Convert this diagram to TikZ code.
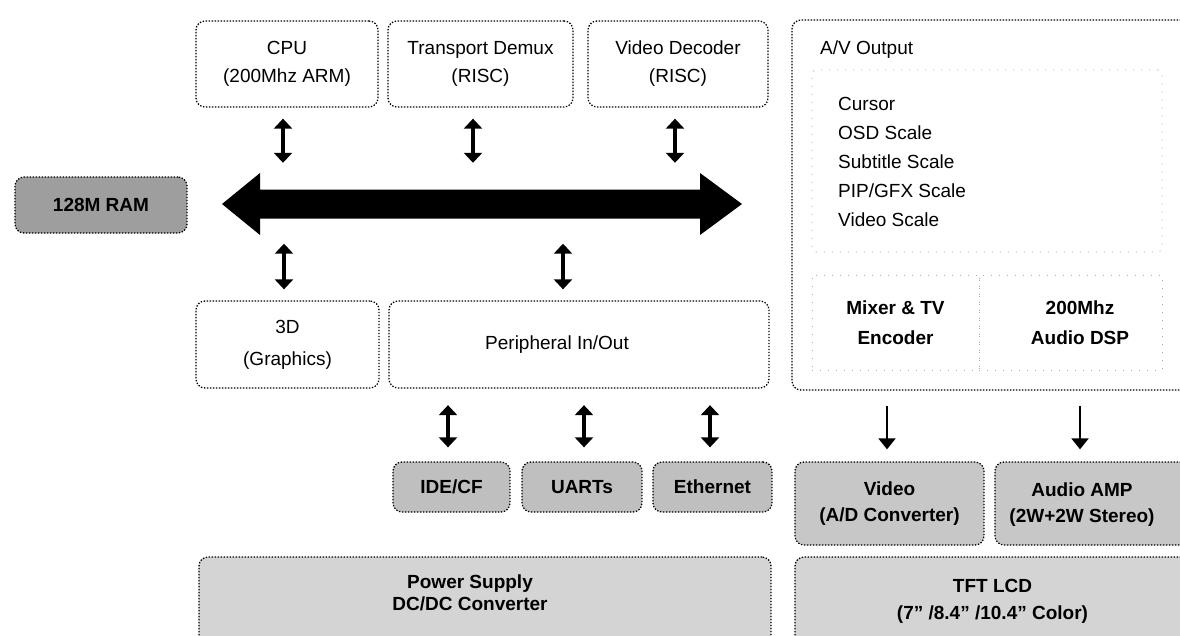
\documentclass[tikz,border=0pt]{standalone}
\usepackage{fontspec}
\setmainfont{Liberation Sans}
\usetikzlibrary{arrows.meta,calc}
\tikzset{
 box/.style={draw=black, line width=1.3pt, dash pattern=on 1.4pt off 1.6pt, rounded corners=9pt, inner sep=0pt, align=center, font=\fontsize{19pt}{28pt}\selectfont},
 gbox/.style={box, fill=black!25, font=\fontsize{19pt}{26pt}\selectfont\bfseries},
 bigbox/.style={gbox, fill=black!17},
 faint/.style={draw=black!35, line width=0.9pt, dash pattern=on 1pt off 7pt, inner sep=0pt, align=center},
 dbl/.style={line width=4pt, {Triangle[width=18pt,length=10pt]}-{Triangle[width=18pt,length=10pt]}},
 down/.style={line width=2pt, -{Triangle[width=17pt,length=11pt]}},
 txt/.style={inner sep=0pt, font=\fontsize{19pt}{29pt}\selectfont, align=left},
 btxt/.style={inner sep=0pt, font=\fontsize{19pt}{26pt}\selectfont\bfseries, align=center},
}
\begin{document}
\begin{tikzpicture}[x=1pt,y=-1pt]
\useasboundingbox (0,0) rectangle (1180,635);
\clip (0,0) rectangle (1180,635);

% top row
\node[box, minimum width=182pt, minimum height=86pt] (cpu) at (287,64) {CPU\\(200Mhz ARM)};
\node[box, minimum width=185pt, minimum height=86pt] (tdx) at (480.5,64) {Transport Demux\\(RISC)};
\node[box, minimum width=180pt, minimum height=86pt] (vdec) at (678,64) {Video Decoder\\(RISC)};

% A/V output block
\node[box, minimum width=398pt, minimum height=370pt] (av) at (991,205) {};
\node[txt, anchor=west] (avlabel) at (820,50) {A/V Output};
\node[faint, rounded corners=4pt, minimum width=350pt, minimum height=182pt] (avin) at (987,161) {};
\node[txt, anchor=west] (avlist) at (838,162) {Cursor\\OSD Scale\\Subtitle Scale\\PIP/GFX Scale\\Video Scale};
\node[faint, minimum width=167pt, minimum height=95pt, font=\fontsize{19pt}{30pt}\selectfont\bfseries] (mix) at (895.5,322.5) {Mixer \& TV\\Encoder};
\node[faint, minimum width=183pt, minimum height=95pt] (dsp) at (1070.5,322.5) {};
\node[btxt, font=\fontsize{19pt}{30pt}\selectfont\bfseries] (dsplabel) at (1080,323) {200Mhz\\Audio DSP};

% RAM and bus
\node[gbox, fill=black!38, minimum width=172pt, minimum height=56pt] (ram) at (101,205) {128M RAM};
\node[inner sep=0pt, minimum width=520pt, minimum height=29pt] (bus) at (482,204) {};
\fill (222,204) -- (260,173) -- (260,189.5) -- (700,189.5) -- (700,173) -- (742,204)
      -- (700,235) -- (700,218.5) -- (260,218.5) -- (260,235) -- cycle;

% middle row
\node[box, minimum width=183pt, minimum height=87pt, font=\fontsize{19pt}{32pt}\selectfont] (g3d) at (287.5,344.5) {3D\\(Graphics)};
\node[box, minimum width=380pt, minimum height=87pt] (per) at (579,344.5) {};
\node[txt] (perlabel) at (557,345) {Peripheral In/Out};

% peripherals
\node[gbox, minimum width=117pt, minimum height=50pt] (ide) at (451.5,487) {IDE/CF};
\node[gbox, minimum width=120pt, minimum height=50pt] (uart) at (582,487) {UARTs};
\node[gbox, minimum width=119pt, minimum height=50pt] (eth) at (712.5,487) {Ethernet};
\node[gbox, fill=black!22, minimum width=189pt, minimum height=83pt] (vid) at (889.5,503.5) {Video\\(A/D Converter)};
\node[gbox, fill=black!22, minimum width=195pt, minimum height=83pt] (amp) at (1092.5,503.5) {};
\node[btxt] (amplabel) at (1082,505) {Audio AMP\\(2W+2W Stereo)};

% bottom row
\node[bigbox, minimum width=572pt, minimum height=88pt] (psu) at (485,601) {};
\node[btxt, font=\fontsize{19pt}{22pt}\selectfont\bfseries] (psulabel) at (470,593) {Power Supply\\DC/DC Converter};
\node[bigbox, minimum width=395pt, minimum height=88pt, font=\fontsize{19pt}{27pt}\selectfont\bfseries] (tft) at (992.5,601) {TFT LCD\\(7" /8.4" /10.4" Color)};

% connectors to bus
\draw[dbl, shorten <=11pt, shorten >=26.5pt] ([xshift=-4pt]cpu.south) -- ([xshift=-4pt]cpu.south |- bus.north);
\draw[dbl, shorten <=11pt, shorten >=26.5pt] ([xshift=-7.5pt]tdx.south) -- ([xshift=-7.5pt]tdx.south |- bus.north);
\draw[dbl, shorten <=11pt, shorten >=26.5pt] ([xshift=-3pt]vdec.south) -- ([xshift=-3pt]vdec.south |- bus.north);
\draw[dbl, shorten <=25pt, shorten >=11pt] ([xshift=-3.5pt]g3d.north |- bus.south) -- ([xshift=-3.5pt]g3d.north);
\draw[dbl, shorten <=25pt, shorten >=11pt] ([xshift=-16pt]per.north |- bus.south) -- ([xshift=-16pt]per.north);

% peripheral connectors
\draw[dbl, shorten <=16.5pt, shorten >=14pt] ([xshift=-3.5pt]ide.north |- per.south) -- ([xshift=-3.5pt]ide.north);
\draw[dbl, shorten <=16.5pt, shorten >=14pt] ([xshift=2pt]uart.north |- per.south) -- ([xshift=2pt]uart.north);
\draw[dbl, shorten <=16.5pt, shorten >=14pt] ([xshift=-2.5pt]eth.north |- per.south) -- ([xshift=-2.5pt]eth.north);

% A/V outputs
\draw[down, shorten <=15pt, shorten >=12pt] ([xshift=-2.5pt]vid.north |- av.south) -- ([xshift=-2.5pt]vid.north);
\draw[down, shorten <=15pt, shorten >=12pt] ([xshift=-12.5pt]amp.north |- av.south) -- ([xshift=-12.5pt]amp.north);
\end{tikzpicture}
\end{document}
